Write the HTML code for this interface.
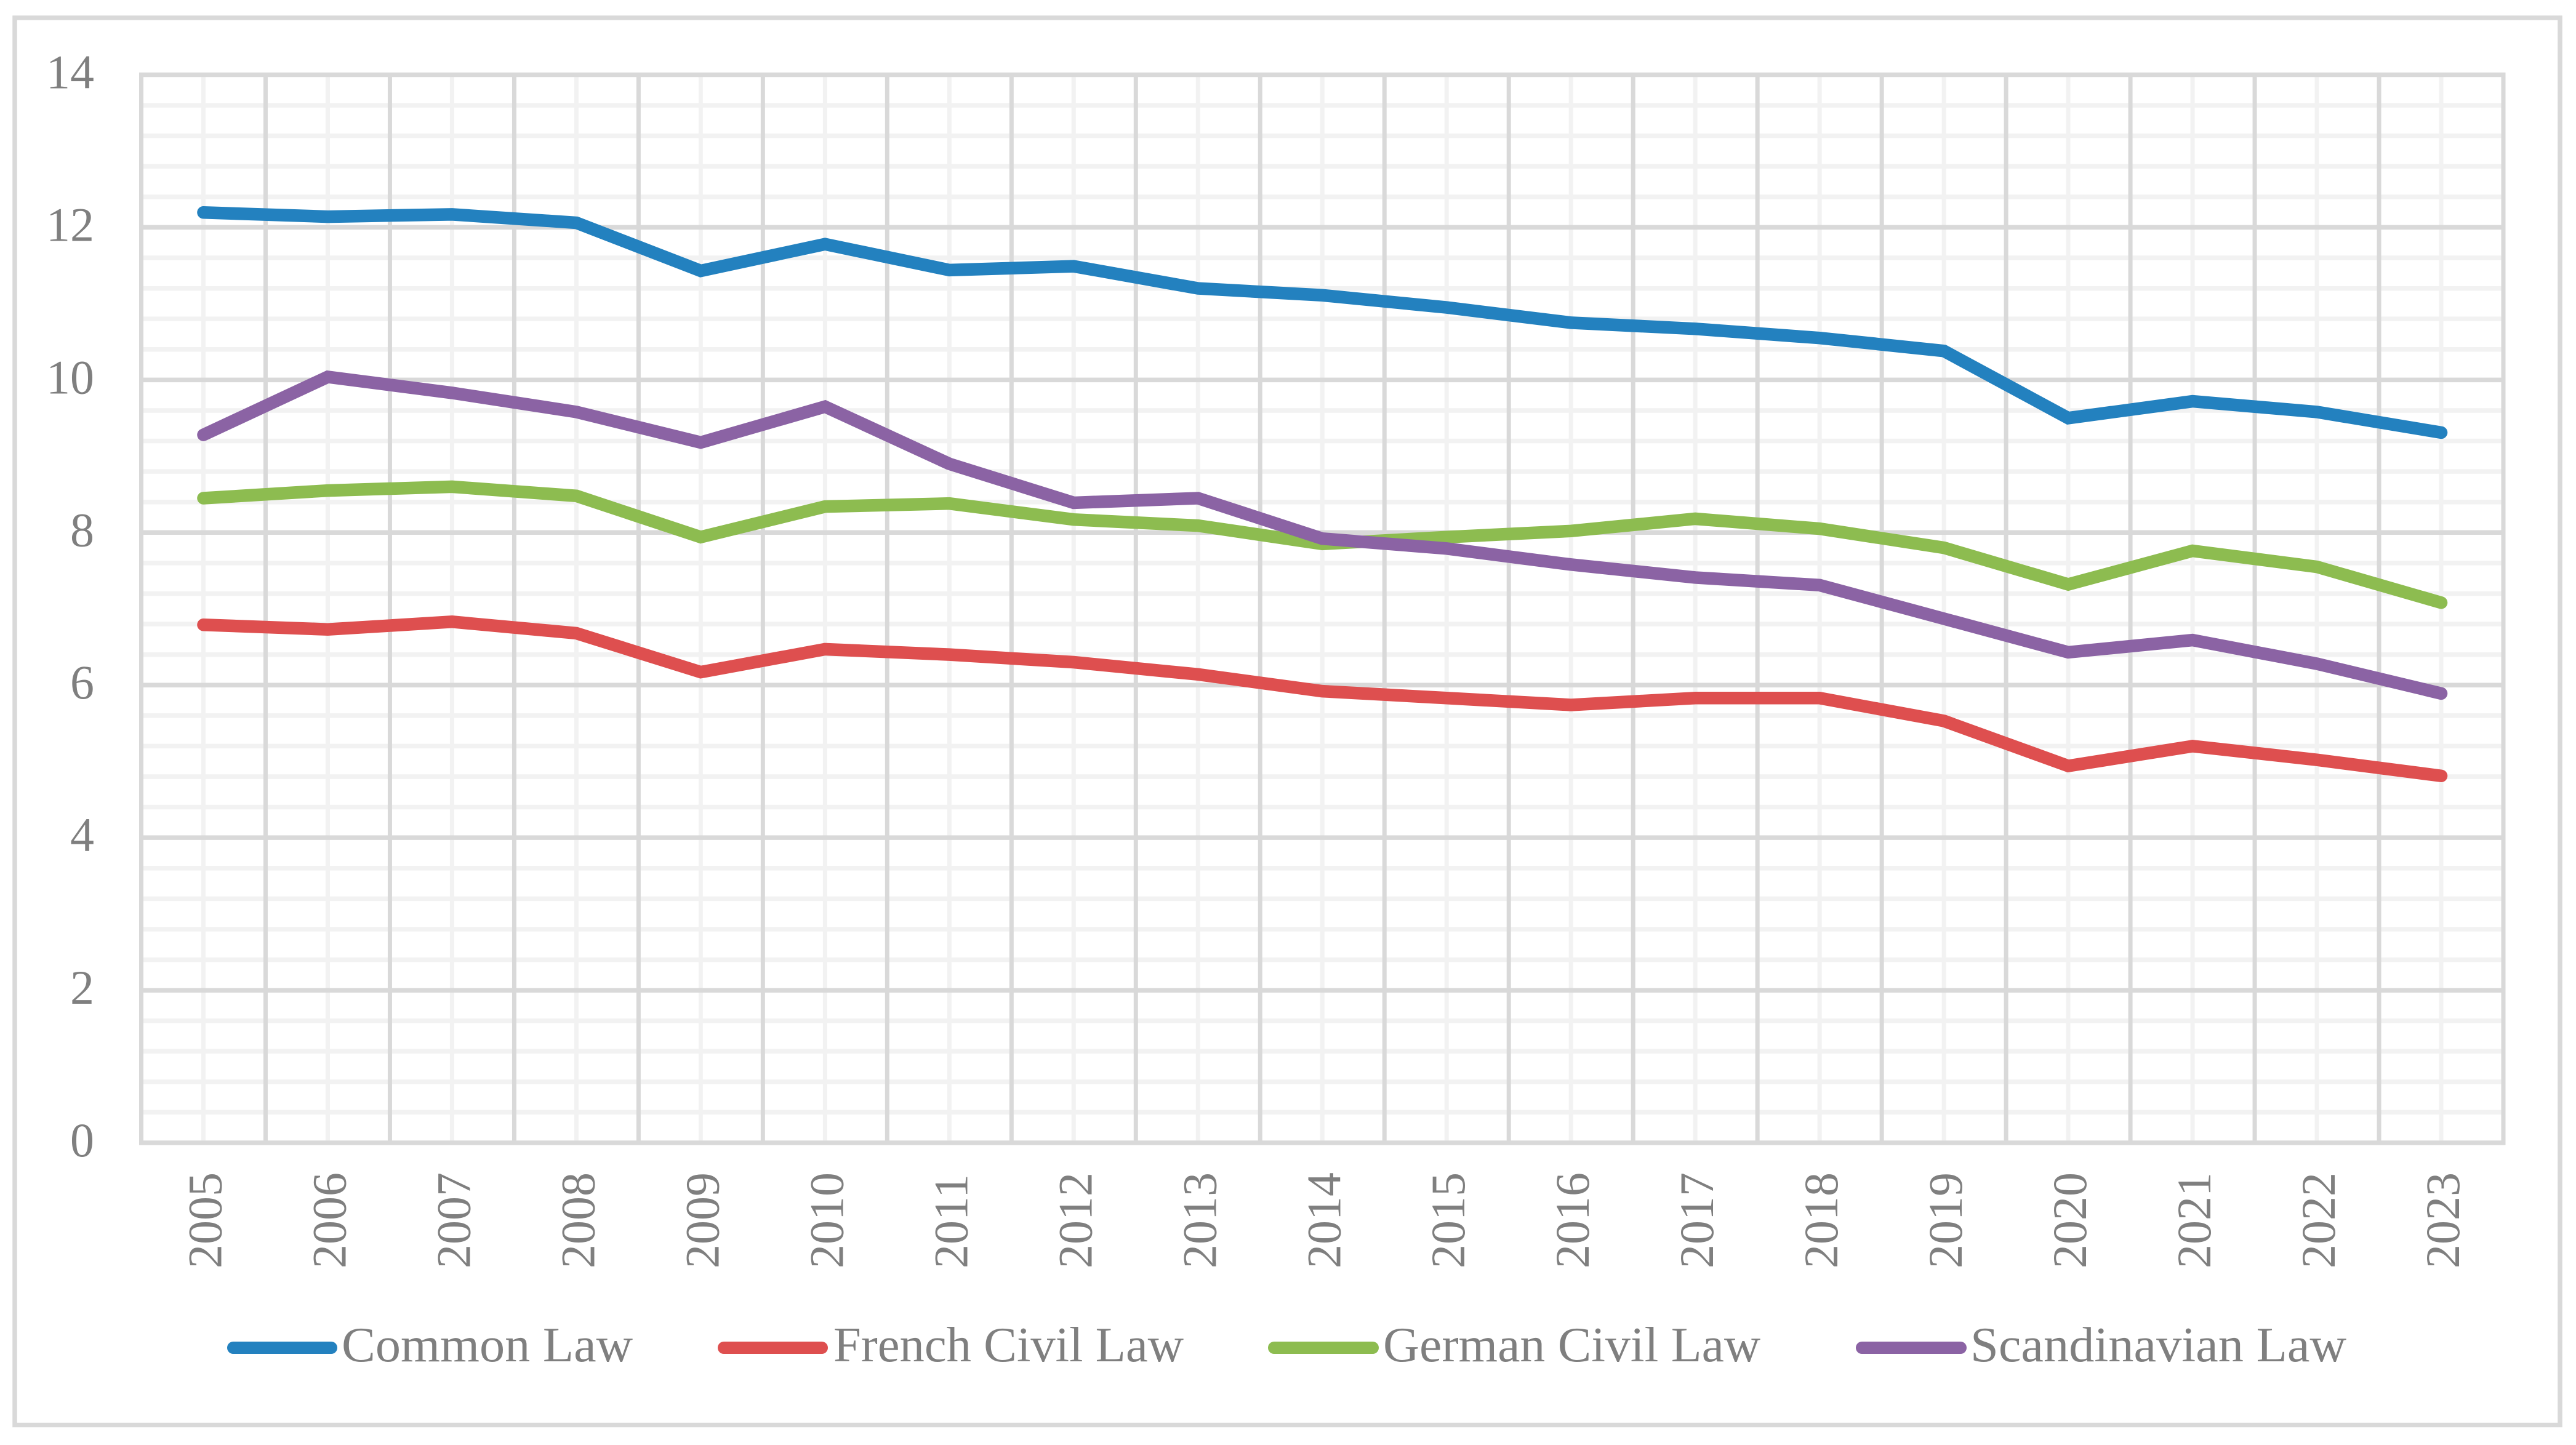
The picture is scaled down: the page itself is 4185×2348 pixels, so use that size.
<!DOCTYPE html>
<html lang="en">
<head>
<meta charset="utf-8">
<title>Line chart of legal origin series, 2005–2023</title>
<style>
  html, body { margin: 0; padding: 0; background: #ffffff; }
  body { width: 4185px; height: 2348px; overflow: hidden; }
  svg { display: block; }
  text { font-family: "Liberation Serif", serif; fill: #7f7f7f; }
</style>
</head>
<body>
<svg id="chart" xmlns="http://www.w3.org/2000/svg" width="4185" height="2348" viewBox="0 0 4185 2348">
  <rect x="0" y="0" width="4185" height="2348" fill="#ffffff"/>
  <rect x="24" y="29" width="4135" height="2286.5" fill="none" stroke="#d9d9d9" stroke-width="7.5"/>
  <g id="grid"></g>
  <g id="y-axis"></g>
  <g id="x-axis"></g>
  <g id="series"></g>
  <g>
    <g>
      <line x1="379" y1="2190" x2="538" y2="2190" stroke="#2381bf" stroke-width="20" stroke-linecap="round"/>
      <text x="555" y="2212" font-size="80" textLength="473" lengthAdjust="spacingAndGlyphs">Common Law</text>
    </g>
    <g>
      <line x1="1176" y1="2190" x2="1335" y2="2190" stroke="#de4f4f" stroke-width="20" stroke-linecap="round"/>
      <text x="1354" y="2212" font-size="80" textLength="569" lengthAdjust="spacingAndGlyphs">French Civil Law</text>
    </g>
    <g>
      <line x1="2070" y1="2190" x2="2230" y2="2190" stroke="#8dbc50" stroke-width="20" stroke-linecap="round"/>
      <text x="2247" y="2212" font-size="80" textLength="613" lengthAdjust="spacingAndGlyphs">German Civil Law</text>
    </g>
    <g>
      <line x1="3025" y1="2190" x2="3185" y2="2190" stroke="#8b63a4" stroke-width="20" stroke-linecap="round"/>
      <text x="3201" y="2212" font-size="80" textLength="611" lengthAdjust="spacingAndGlyphs">Scandinavian Law</text>
    </g>
  </g>
</svg>
<script>
const years = [2005,2006,2007,2008,2009,2010,2011,2012,2013,2014,2015,2016,2017,2018,2019,2020,2021,2022,2023];
const yTicks = [0,2,4,6,8,10,12,14];
const yMinorTicks = [0.4,0.8,1.2,1.6,2.4,2.8,3.2,3.6,4.4,4.8,5.2,5.6,6.4,6.8,7.2,7.6,8.4,8.8,9.2,9.6,10.4,10.8,11.2,11.6,12.4,12.8,13.2,13.6];
const commonLaw = [12.195,12.14,12.17,12.06,11.43,11.78,11.44,11.49,11.20,11.11,10.95,10.75,10.67,10.55,10.38,9.50,9.72,9.58,9.31];
const frenchCivilLaw = [6.79,6.73,6.83,6.68,6.17,6.47,6.40,6.30,6.14,5.92,5.83,5.74,5.83,5.83,5.53,4.94,5.20,5.02,4.81];
const germanCivilLaw = [8.45,8.55,8.60,8.48,7.94,8.34,8.38,8.17,8.09,7.85,7.94,8.02,8.18,8.05,7.80,7.32,7.76,7.55,7.08];
const scandinavianLaw = [9.28,10.04,9.83,9.58,9.18,9.65,8.90,8.39,8.45,7.92,7.79,7.58,7.41,7.31,6.87,6.43,6.59,6.28,5.89];

const NS = 'http://www.w3.org/2000/svg';
const plotLeft = 229.5, plotRight = 4067, plotTop = 121.5, plotBottom = 1857, yMax = 14;
const bandWidth = (plotRight - plotLeft) / years.length;
function xScale(i) { return plotLeft + bandWidth * (i + 0.5); }
function xEdge(i) { return plotLeft + bandWidth * i; }
function yScale(v) { return plotBottom - (v / yMax) * (plotBottom - plotTop); }

const gridGroup = document.getElementById('grid');
function addGridLine(x1, y1, x2, y2, color, width, name) {
  const line = document.createElementNS(NS, 'line');
  line.setAttribute('x1', x1);
  line.setAttribute('y1', y1);
  line.setAttribute('x2', x2);
  line.setAttribute('y2', y2);
  line.setAttribute('stroke', color);
  line.setAttribute('stroke-width', width);
  
  
  gridGroup.appendChild(line);
}
yMinorTicks.forEach(function (v) {
  addGridLine(plotLeft, yScale(v), plotRight, yScale(v), '#f2f2f2', 7.5, 'minor-horizontal-gridline');
});
years.forEach(function (y, i) {
  addGridLine(xScale(i), plotTop, xScale(i), plotBottom, '#f2f2f2', 7, 'minor-vertical-gridline');
});
yTicks.forEach(function (v) {
  addGridLine(plotLeft - 3.5, yScale(v), plotRight + 3.5, yScale(v), '#d9d9d9', 7.5, 'major-horizontal-gridline');
});
for (let i = 0; i <= years.length; i++) {
  addGridLine(xEdge(i), plotTop, xEdge(i), plotBottom, '#d9d9d9', 7, 'major-vertical-gridline');
}

const yAxisGroup = document.getElementById('y-axis');
yTicks.forEach(function (v) {
  const t = document.createElementNS(NS, 'text');
  t.setAttribute('x', 153);
  t.setAttribute('y', yScale(v) + 22);
  t.setAttribute('font-size', '78');
  t.setAttribute('text-anchor', 'end');
  
  
  t.textContent = v;
  yAxisGroup.appendChild(t);
});

const xAxisGroup = document.getElementById('x-axis');
years.forEach(function (y, i) {
  const t = document.createElementNS(NS, 'text');
  const px = xScale(i) + 29;
  t.setAttribute('transform', 'translate(' + px + ',2061) rotate(-90)');
  t.setAttribute('font-size', '78');
  
  
  t.textContent = y;
  xAxisGroup.appendChild(t);
});

const seriesNames = ['common-law', 'french-civil-law', 'german-civil-law', 'scandinavian-law'];
const seriesColors = ['#2381bf', '#de4f4f', '#8dbc50', '#8b63a4'];
const seriesValues = [commonLaw, frenchCivilLaw, germanCivilLaw, scandinavianLaw];
const seriesGroup = document.getElementById('series');
seriesValues.forEach(function (values, s) {
  const path = document.createElementNS(NS, 'path');
  const d = values.map(function (v, i) {
    return (i === 0 ? 'M' : 'L') + xScale(i).toFixed(2) + ' ' + yScale(v).toFixed(2);
  }).join(' ');
  path.setAttribute('d', d);
  path.setAttribute('fill', 'none');
  path.setAttribute('stroke', seriesColors[s]);
  path.setAttribute('stroke-width', '20.5');
  path.setAttribute('stroke-linecap', 'round');
  path.setAttribute('stroke-linejoin', 'miter');
  
  
  seriesGroup.appendChild(path);
});
</script>
</body>
</html>
